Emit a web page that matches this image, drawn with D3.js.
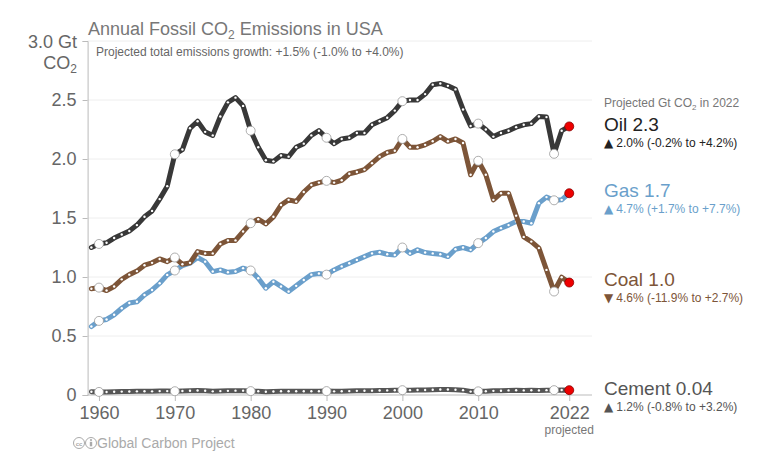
<!DOCTYPE html>
<html>
<head>
<meta charset="utf-8">
<script src="https://cdn.jsdelivr.net/npm/d3@7"></script>
<style>
  body { margin: 0; background: #fff; }
  svg { font-family: "Liberation Sans", Arial, sans-serif; }
</style>
</head>
<body>
<div id="chart"></div>
<script>
var width = 778;
var height = 463;

var years = d3.range(1959, 2023);
var oil = [1.25, 1.28, 1.29, 1.33, 1.36, 1.39, 1.44, 1.51, 1.56, 1.66, 1.77,
  2.04, 2.08, 2.26, 2.32, 2.23, 2.20, 2.36, 2.48, 2.52, 2.45,
  2.24, 2.10, 1.99, 1.98, 2.03, 2.02, 2.10, 2.13, 2.20, 2.24,
  2.18, 2.13, 2.17, 2.18, 2.22, 2.22, 2.29, 2.32, 2.35, 2.41,
  2.49, 2.50, 2.50, 2.55, 2.63, 2.64, 2.62, 2.59, 2.42, 2.28,
  2.30, 2.25, 2.19, 2.22, 2.24, 2.27, 2.29, 2.30, 2.36, 2.355,
  2.044, 2.24, 2.276];
var coal = [0.90, 0.91, 0.885, 0.92, 0.98, 1.02, 1.05, 1.10, 1.12, 1.153, 1.13,
  1.165, 1.108, 1.12, 1.215, 1.20, 1.20, 1.28, 1.31, 1.31, 1.385,
  1.456, 1.49, 1.45, 1.51, 1.61, 1.654, 1.64, 1.72, 1.78, 1.80,
  1.815, 1.80, 1.82, 1.875, 1.89, 1.91, 1.965, 2.02, 2.055, 2.07,
  2.17, 2.10, 2.10, 2.12, 2.15, 2.19, 2.15, 2.17, 2.135, 1.866,
  1.985, 1.866, 1.654, 1.71, 1.71, 1.52, 1.34, 1.30, 1.245, 1.06,
  0.877, 0.998, 0.953];
var gas = [0.58, 0.628, 0.64, 0.68, 0.735, 0.78, 0.79, 0.848, 0.89, 0.947, 1.018,
  1.055, 1.097, 1.117, 1.165, 1.13, 1.046, 1.06, 1.04, 1.046, 1.075,
  1.055, 0.99, 0.905, 0.96, 0.92, 0.877, 0.925, 0.975, 1.02, 1.03,
  1.02, 1.06, 1.09, 1.117, 1.145, 1.173, 1.20, 1.21, 1.193, 1.187,
  1.25, 1.20, 1.23, 1.207, 1.20, 1.193, 1.173, 1.235, 1.25, 1.23,
  1.287, 1.33, 1.385, 1.414, 1.44, 1.47, 1.47, 1.456, 1.626, 1.677,
  1.65, 1.654, 1.71];
var cement = [0.027, 0.026, 0.026, 0.027, 0.029, 0.030, 0.031, 0.032, 0.031, 0.033, 0.033,
  0.032, 0.034, 0.036, 0.038, 0.036, 0.031, 0.033, 0.035, 0.037, 0.037,
  0.033, 0.032, 0.028, 0.030, 0.032, 0.032, 0.032, 0.032, 0.032, 0.032,
  0.033, 0.031, 0.032, 0.033, 0.035, 0.036, 0.037, 0.038, 0.039, 0.040,
  0.041, 0.041, 0.043, 0.043, 0.045, 0.046, 0.046, 0.045, 0.041, 0.029,
  0.031, 0.032, 0.035, 0.036, 0.039, 0.040, 0.039, 0.040, 0.039, 0.041,
  0.041, 0.042, 0.041];

var seriesNames = ["Cement", "Gas", "Coal", "Oil"];
var seriesValues = [cement, gas, coal, oil];
var seriesColors = ["#555555", "#6a9fcb", "#7d5538", "#383838"];

var labelNames = ["Oil 2.3", "Gas 1.7", "Coal 1.0", "Cement 0.04"];
var labelArrows = ["\u25B2", "\u25B2", "\u25BC", "\u25B2"];
var labelGrowth = ["2.0% (-0.2% to +4.2%)", "4.7% (+1.7% to +7.7%)",
  "4.6% (-11.9% to +2.7%)", "1.2% (-0.8% to +3.2%)"];
var labelColors = ["#222222", "#6a9fcb", "#7d5538", "#555555"];
var labelY = [131, 197, 286, 395];

var yTicks = [0, 0.5, 1.0, 1.5, 2.0, 2.5, 3.0];
var xTicks = [1960, 1970, 1980, 1990, 2000, 2010, 2022];
var bigDots = [1960, 1970, 1980, 1990, 2000, 2010, 2020];

var x = d3.scaleLinear().domain([1958.5, 2025]).range([87.6, 592]);
var y = d3.scaleLinear().domain([0, 3]).range([395, 41]);

var svg = d3.select("#chart").append("svg")
  .attr("width", width)
  .attr("height", height);

// gridlines
svg.append("g")
  .selectAll("line")
  .data(yTicks.slice(1))
  .enter()
  .append("line")
    .attr("x1", x(1958.5))
    .attr("x2", x(2025))
    .attr("y1", function(d) { return y(d); })
    .attr("y2", function(d) { return y(d); })
    .attr("stroke", "#eeeeee")
    .attr("stroke-width", 1);

// y axis
var yAxis = svg.append("g")
  .attr("transform", "translate(" + x(1958.5) + ",0)")
  .call(d3.axisLeft(y).tickValues(yTicks).tickSize(5).tickPadding(6)
    .tickFormat(function(d) { return d === 0 ? "0" : d === 3 ? "" : d3.format(".1f")(d); }));
yAxis.select(".domain").attr("stroke", "#bbbbbb");
yAxis.selectAll(".tick line").attr("stroke", "#bbbbbb");
yAxis.selectAll(".tick text").attr("fill", "#666").attr("font-size", "18px")
  .attr("font-family", "Liberation Sans, Arial, sans-serif");

// x axis
var xAxis = svg.append("g")
  .attr("transform", "translate(0," + y(0) + ")")
  .call(d3.axisBottom(x).tickValues(xTicks).tickSize(6).tickPadding(5)
    .tickFormat(d3.format("d")));
xAxis.select(".domain").attr("stroke", "#bbbbbb").attr("d", "M" + x(1958.5) + ",0H" + x(2025));
xAxis.selectAll(".tick line").attr("stroke", "#bbbbbb");
xAxis.selectAll(".tick text").attr("fill", "#666").attr("font-size", "18px")
  .attr("font-family", "Liberation Sans, Arial, sans-serif");

svg.append("text")
  .attr("x", x(2022))
  .attr("y", 434)
  .attr("text-anchor", "middle")
  .attr("font-size", "12px")
  .attr("fill", "#777")
  .text("projected");

// y axis unit label
svg.append("text")
  .attr("x", 77)
  .attr("y", 48)
  .attr("text-anchor", "end")
  .attr("font-size", "18px")
  .attr("fill", "#666")
  .text("3.0 Gt");
var co2Label = svg.append("text")
  .attr("x", 77)
  .attr("y", 69)
  .attr("text-anchor", "end")
  .attr("font-size", "18px")
  .attr("fill", "#666");
co2Label.append("tspan").text("CO");
co2Label.append("tspan").attr("font-size", "12px").attr("dy", "4").text("2");

// title
var title = svg.append("text")
  .attr("x", 88)
  .attr("y", 35)
  .attr("font-size", "18px")
  .attr("fill", "#777");
title.append("tspan").text("Annual Fossil CO");
title.append("tspan").attr("font-size", "12px").attr("dy", "4").text("2");
title.append("tspan").attr("dy", "-4").text(" Emissions in USA");

svg.append("text")
  .attr("x", 96)
  .attr("y", 56)
  .attr("font-size", "12px")
  .attr("fill", "#666")
  .text("Projected total emissions growth: +1.5% (-1.0% to +4.0%)");

// lines
var line = d3.line()
  .x(function(d, i) { return x(years[i]); })
  .y(function(d) { return y(d); });

var series = svg.append("g")
  .selectAll("g")
  .data(seriesValues)
  .enter()
  .append("g");

series.append("path")
  .attr("d", function(d) { return line(d); })
  .attr("fill", "none")
  .attr("stroke", function(d, i) { return seriesColors[i]; })
  .attr("stroke-width", 5)
  .attr("stroke-linejoin", "round")
  .attr("stroke-linecap", "round");

series.selectAll(".yr")
  .data(function(d) { return d.slice(0, d.length - 1); })
  .enter()
  .append("circle")
    .attr("class", "yr")
    .attr("cx", function(d, i) { return x(years[i]); })
    .attr("cy", function(d) { return y(d); })
    .attr("r", 1.2)
    .attr("fill", "#fff");

series.selectAll(".big")
  .data(function(d) { return bigDots.map(function(yr) { return [yr, d[years.indexOf(yr)]]; }); })
  .enter()
  .append("circle")
    .attr("class", "big")
    .attr("cx", function(d) { return x(d[0]); })
    .attr("cy", function(d) { return y(d[1]); })
    .attr("r", 4.5)
    .attr("fill", "#fff")
    .attr("stroke", "#999")
    .attr("stroke-width", 0.8);

series.append("circle")
  .attr("cx", x(2022))
  .attr("cy", function(d) { return y(d[d.length - 1]); })
  .attr("r", 4.5)
  .attr("fill", "#ee0000")
  .attr("stroke", "#880000")
  .attr("stroke-width", 0.8);

// right labels
var head = svg.append("text")
  .attr("x", 604)
  .attr("y", 107)
  .attr("font-size", "12px")
  .attr("fill", "#777");
head.append("tspan").text("Projected Gt CO");
head.append("tspan").attr("font-size", "8px").attr("dy", "3").text("2");
head.append("tspan").attr("dy", "-3").text(" in 2022");

var labels = svg.append("g")
  .selectAll("g")
  .data(labelNames)
  .enter()
  .append("g");

labels.append("text")
  .attr("x", 604)
  .attr("y", function(d, i) { return labelY[i]; })
  .attr("font-size", "19px")
  .attr("fill", function(d, i) { return labelColors[i]; })
  .text(function(d) { return d; });

var growth = labels.append("text")
  .attr("x", 604)
  .attr("y", function(d, i) { return labelY[i] + 16; })
  .attr("font-size", "12px")
  .attr("fill", function(d, i) { return labelColors[i]; });
growth.append("tspan")
  .attr("font-family", "DejaVu Sans, sans-serif")
  .text(function(d, i) { return labelArrows[i]; });
growth.append("tspan")
  .attr("dx", 3)
  .text(function(d, i) { return labelGrowth[i]; });

// footer
var foot = svg.append("g").attr("fill", "#aaa");
foot.append("circle").attr("cx", 79).attr("cy", 443).attr("r", 5.5)
  .attr("fill", "none").attr("stroke", "#aaa").attr("stroke-width", 1);
foot.append("text").attr("x", 79).attr("y", 445.5).attr("text-anchor", "middle")
  .attr("font-size", "6px").attr("font-weight", "bold").text("cc");
foot.append("circle").attr("cx", 91).attr("cy", 443).attr("r", 5.5)
  .attr("fill", "none").attr("stroke", "#aaa").attr("stroke-width", 1);
foot.append("circle").attr("cx", 91).attr("cy", 440).attr("r", 1.1);
foot.append("rect").attr("x", 89.8).attr("y", 441.8).attr("width", 2.4).attr("height", 4.5);
foot.append("text")
  .attr("x", 97)
  .attr("y", 448)
  .attr("font-size", "14px")
  .text("Global Carbon Project");
</script>
</body>
</html>
